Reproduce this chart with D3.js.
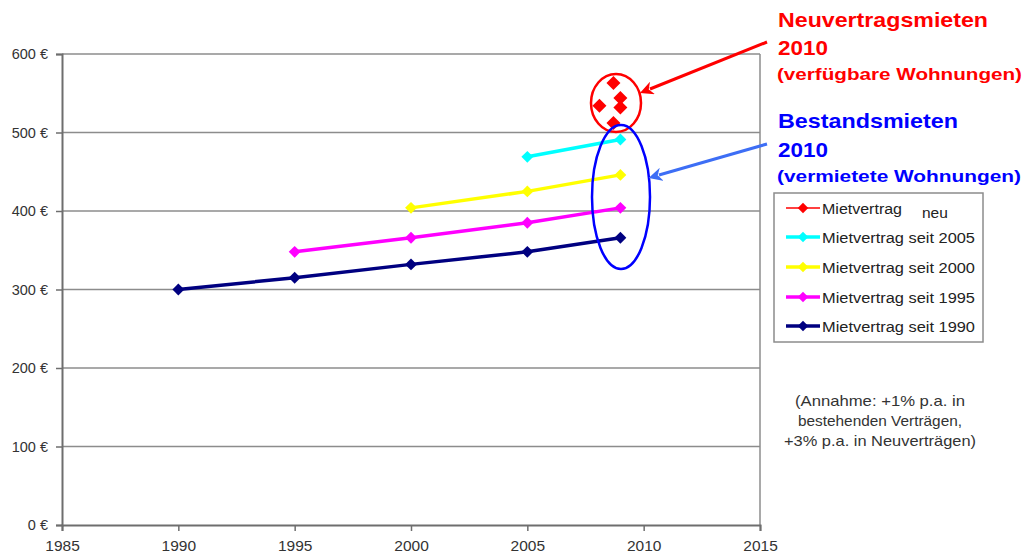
<!DOCTYPE html>
<html lang="de">
<head>
<meta charset="UTF-8">
<title>Mieten</title>
<script src="https://cdnjs.cloudflare.com/ajax/libs/d3/7.8.5/d3.min.js"></script>
<style>
  body { margin: 0; background: #fff; font-family: Arial, "Liberation Sans", sans-serif; }
</style>
</head>
<body>
<svg id="chart" width="1027" height="558"></svg>
<script>
// data
const yearsTicks = [1985, 1990, 1995, 2000, 2005, 2010, 2015];
const valueTicks = [0, 100, 200, 300, 400, 500, 600];

const years1990 = [1990, 1995, 2000, 2005, 2009];
const miete1990 = [300, 315, 332, 348, 366];
const years1995 = [1995, 2000, 2005, 2009];
const miete1995 = [348, 366, 385, 404];
const years2000 = [2000, 2005, 2009];
const miete2000 = [404, 425, 446];
const years2005 = [2005, 2009];
const miete2005 = [469, 491];
const yearsNeu = [2008.7, 2008.1, 2009.0, 2009.0, 2008.7];
const mieteNeu = [563, 534, 544, 532, 512];

const legendLabels = ["Mietvertrag", "Mietvertrag seit 2005", "Mietvertrag seit 2000", "Mietvertrag seit 1995", "Mietvertrag seit 1990"];

const series = [
  { name: legendLabels[4], x: years1990, y: miete1990, color: "#000080", line: true },
  { name: legendLabels[3], x: years1995, y: miete1995, color: "#ff00ff", line: true },
  { name: legendLabels[2], x: years2000, y: miete2000, color: "#ffff00", line: true },
  { name: legendLabels[1], x: years2005, y: miete2005, color: "#00ffff", line: true },
  { name: legendLabels[0], x: yearsNeu, y: mieteNeu, color: "#ff0000", line: false }
];

const svg = d3.select("#chart");
const x = d3.scaleLinear().domain([1985, 2015]).range([62, 760]);
const y = d3.scaleLinear().domain([0, 600]).range([525, 54]);

// grid + frame
svg.append("g")
  .selectAll("line")
  .data(valueTicks.filter(v => v > 0))
  .join("line")
  .attr("x1", x(1985)).attr("x2", x(2015))
  .attr("y1", d => y(d)).attr("y2", d => y(d))
  .attr("stroke", "#8c8c8c").attr("stroke-width", 1.5);

svg.append("line")
  .attr("x1", x(2015)).attr("x2", x(2015))
  .attr("y1", y(600)).attr("y2", y(0))
  .attr("stroke", "#8c8c8c").attr("stroke-width", 1.5);

// axes
const yAxis = svg.append("g")
  .attr("transform", `translate(${x(1985)},0)`)
  .call(d3.axisLeft(y).tickValues(valueTicks).tickSize(6).tickPadding(8).tickFormat(d => d + " €"));
const xAxis = svg.append("g")
  .attr("transform", `translate(0,${y(0)})`)
  .call(d3.axisBottom(x).tickValues(yearsTicks).tickSize(6).tickPadding(9).tickFormat(d3.format("d")));

[yAxis, xAxis].forEach(g => {
  g.select(".domain").attr("stroke", "#6e6e6e").attr("stroke-width", 2);
  g.selectAll(".tick line").attr("stroke", "#6e6e6e").attr("stroke-width", 1.5);
  g.selectAll("text").attr("fill", "#333").style("font-family", "Arial, 'Liberation Sans', sans-serif");
});
yAxis.selectAll("text").style("font-size", "14.5px");
xAxis.selectAll("text").style("font-size", "15.5px");

// series
const diamond = d3.symbol().type(d3.symbolDiamond2);
const lineGen = d3.line().x(d => x(d[0])).y(d => y(d[1]));

series.forEach(s => {
  const pts = s.x.map((v, i) => [v, s.y[i]]);
  if (s.line) {
    svg.append("path")
      .attr("d", lineGen(pts))
      .attr("fill", "none")
      .attr("stroke", s.color)
      .attr("stroke-width", 3.5);
  }
  svg.append("g")
    .selectAll("path")
    .data(pts)
    .join("path")
    .attr("transform", d => `translate(${x(d[0])},${y(d[1])})`)
    .attr("d", diamond.size(s.line ? 90 : 125)())
    .attr("fill", s.color);
});

// highlight ellipses
svg.append("ellipse")
  .attr("cx", 616).attr("cy", 103).attr("rx", 25).attr("ry", 29)
  .attr("fill", "none").attr("stroke", "#ff0000").attr("stroke-width", 2.5);
svg.append("ellipse")
  .attr("cx", 621).attr("cy", 197).attr("rx", 29).attr("ry", 72)
  .attr("fill", "none").attr("stroke", "#0000ff").attr("stroke-width", 2.5);

// arrows
const defs = svg.append("defs");
[["arRed", "#ff0000"], ["arBlue", "#3d6ef5"]].forEach(([id, c]) => {
  defs.append("marker")
    .attr("id", id).attr("viewBox", "0 0 10 10")
    .attr("refX", 2).attr("refY", 5)
    .attr("markerWidth", 4.5).attr("markerHeight", 4.5)
    .attr("orient", "auto")
    .append("path").attr("d", "M0,0 L10,5 L0,10 L3,5 Z").attr("fill", c);
});
svg.append("line")
  .attr("x1", 767).attr("y1", 42).attr("x2", 650).attr("y2", 89)
  .attr("stroke", "#ff0000").attr("stroke-width", 3).attr("marker-end", "url(#arRed)");
svg.append("line")
  .attr("x1", 767).attr("y1", 144).attr("x2", 659).attr("y2", 175)
  .attr("stroke", "#3d6ef5").attr("stroke-width", 3).attr("marker-end", "url(#arBlue)");

// annotation titles
const notes = [
  { t: "Neuvertragsmieten", x: 778, y: 27, size: 21, w: 210, c: "#ff0000" },
  { t: "2010", x: 778, y: 55, size: 21, w: 50, c: "#ff0000" },
  { t: "(verfügbare Wohnungen)", x: 777, y: 80, size: 17, w: 245, c: "#ff0000" },
  { t: "Bestandsmieten", x: 778, y: 128, size: 21, w: 180, c: "#0000ff" },
  { t: "2010", x: 778, y: 157, size: 21, w: 50, c: "#0000ff" },
  { t: "(vermietete Wohnungen)", x: 777, y: 182, size: 17, w: 244, c: "#0000ff" }
];
svg.append("g")
  .selectAll("text")
  .data(notes)
  .join("text")
  .attr("x", d => d.x).attr("y", d => d.y)
  .attr("fill", d => d.c)
  .attr("font-weight", "bold")
  .attr("font-size", d => d.size)
  .attr("textLength", d => d.w)
  .attr("lengthAdjust", "spacingAndGlyphs")
  .text(d => d.t);

// legend
const legend = svg.append("g");
legend.append("rect")
  .attr("x", 774).attr("y", 193).attr("width", 209).attr("height", 149)
  .attr("fill", "#fff").attr("stroke", "#8c8c8c").attr("stroke-width", 1.5);
const legendOrder = [series[4], series[3], series[2], series[1], series[0]];
const rowY = [208, 237, 267, 297, 326];
legendOrder.forEach((s, i) => {
  const g = legend.append("g").attr("transform", `translate(0,${rowY[i]})`);
  g.append("line").attr("x1", 786).attr("x2", 820)
    .attr("stroke", s.color).attr("stroke-width", s.line ? 3.5 : 1.5);
  g.append("path").attr("transform", "translate(803,0)")
    .attr("d", diamond.size(70)()).attr("fill", s.color);
  const t = g.append("text").attr("x", 822).attr("y", 5.5)
    .attr("font-size", 15.5).attr("fill", "#222").text(s.name);
  if (s.line) t.attr("textLength", 153).attr("lengthAdjust", "spacingAndGlyphs");
  else t.attr("textLength", 80).attr("lengthAdjust", "spacingAndGlyphs");
});
legend.append("text").attr("x", 922).attr("y", 218)
  .attr("font-size", 15.5).attr("fill", "#222").text("neu");

// assumption note
const assumption = ["(Annahme: +1% p.a. in", "bestehenden Verträgen,", "+3% p.a. in Neuverträgen)"];
const assumptionW = [170, 164, 192];
svg.append("g")
  .selectAll("text")
  .data(assumption)
  .join("text")
  .attr("x", 880).attr("y", (d, i) => 406 + i * 20)
  .attr("text-anchor", "middle")
  .attr("font-size", 15).attr("fill", "#333")
  .attr("textLength", (d, i) => assumptionW[i])
  .attr("lengthAdjust", "spacingAndGlyphs")
  .text(d => d);
</script>
</body>
</html>
